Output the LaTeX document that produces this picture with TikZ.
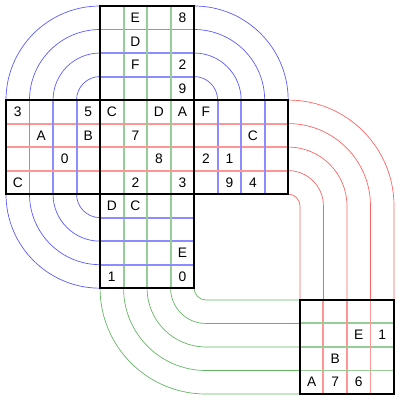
\documentclass[tikz,border=0pt]{standalone}
\usepackage{fontspec}
\setmainfont{Liberation Sans}
\definecolor{xanhnhat}{RGB}{140,140,255}
\definecolor{xanh}{RGB}{90,90,250}
\definecolor{donhat}{RGB}{255,150,150}
\definecolor{do}{RGB}{250,100,100}
\definecolor{lucnhat}{RGB}{150,205,150}
\definecolor{luc}{RGB}{100,180,100}
\begin{document}
\begin{tikzpicture}[x=0.6cm, y=0.6cm,
	cung/.style={line width=0.5pt},
	vach/.style={line width=1.4pt},
	khung/.style={line width=1.2pt, black},
	so/.style={font=\fontsize{10}{12}\selectfont, inner sep=0pt}]
	\useasboundingbox (-0.255,0.255) rectangle (16.755,-16.755);
	
	% Các cung màu xanh
	\foreach \r in {1,...,4} {
		\draw[cung, xanh] (4,-4+\r) arc[start angle=90, end angle=180, radius=\r];
		\draw[cung, xanh] (8,-4+\r) arc[start angle=90, end angle=0, radius=\r];
		\draw[cung, xanh] (4-\r,-8) arc[start angle=180, end angle=270, radius=\r];
	}
	
	% Các cung màu đỏ và màu lục
	\foreach \r in {0.5,1.5,...,4.5} {
		\draw[cung, do] (12,-8.5+\r) arc[start angle=90, end angle=0, radius=\r] -- (12+\r,-12.5);
		\draw[cung, luc] (8.5-\r,-12) arc[start angle=180, end angle=270, radius=\r] -- (12.5,-12-\r);
	}
	
	% Vạch trong các ô
	\foreach \k in {1,2,3} {
		\draw[vach, xanhnhat] (4,-\k) -- (8,-\k);
		\draw[vach, lucnhat] (4+\k,0) -- (4+\k,-12);
		\draw[vach, donhat] (0,-4-\k) -- (12,-4-\k);
		\draw[vach, xanhnhat] (\k,-4) -- (\k,-8);
		\draw[vach, xanhnhat] (8+\k,-4) -- (8+\k,-8);
		\draw[vach, xanhnhat] (4,-8-\k) -- (8,-8-\k);
		\draw[vach, donhat] (12.5+\k,-12.5) -- (12.5+\k,-16.5);
		\draw[vach, lucnhat] (12.5,-12.5-\k) -- (16.5,-12.5-\k);
	}
	
	% Khung các khối
	\foreach \a/\b in {4/0, 0/-4, 4/-4, 8/-4, 4/-8, 12.5/-12.5}
		\draw[khung] (\a,\b) rectangle ++(4,-4);
	
	% Các chữ số
	\foreach \x/\y/\t [count=\i] in {5/0/E, 7/0/8, 5/1/D, 5/2/F, 7/2/2, 7/3/9,
		0/4/3, 3/4/5, 4/4/C, 6/4/D, 7/4/A, 8/4/F,
		1/5/A, 3/5/B, 5/5/7, 10/5/C,
		2/6/0, 6/6/8, 8/6/2, 9/6/1,
		0/7/C, 5/7/2, 7/7/3, 9/7/9, 10/7/4,
		4/8/D, 5/8/C, 7/10/E, 4/11/1, 7/11/0,
		14.5/13.5/E, 15.5/13.5/1, 13.5/14.5/B,
		12.5/15.5/A, 13.5/15.5/7, 14.5/15.5/6}
		\node[so] (o\i) at (\x+0.5,-\y-0.5) {\t};
\end{tikzpicture}
\end{document}
